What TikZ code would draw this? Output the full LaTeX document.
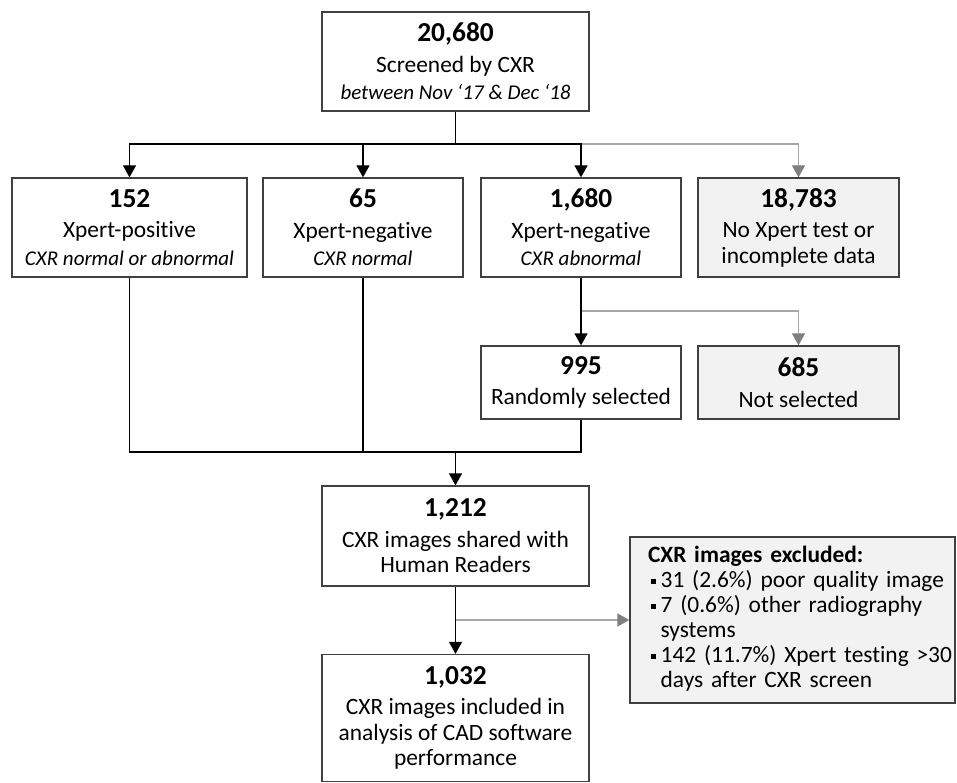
\documentclass[tikz,border=0pt]{standalone}
\usepackage{fontspec}
\setmainfont{Carlito}[Ligatures={TeX,NoCommon}]
\usetikzlibrary{arrows.meta}
\definecolor{boxline}{HTML}{404040}
\definecolor{greyline}{HTML}{A6A6A6}
\definecolor{greytip}{HTML}{7F7F7F}
\definecolor{greyfill}{HTML}{F2F2F2}
\newcommand{\numtxt}[1]{{\fontsize{27.4}{30}\selectfont\bfseries #1}\\[5pt]}
\newcommand{\subtxt}[1]{\\[2pt]{\fontsize{21}{25}\selectfont\itshape #1}}
\newcommand{\sqbullet}{\raisebox{0.3ex}{\rule{0.2em}{0.2em}}}

\begin{document}
\begin{tikzpicture}[x=1pt, y=-1pt, font=\fontsize{23.4}{25.5}\selectfont,
    box/.style={draw=boxline, line width=1.3pt, align=center, inner sep=0pt, minimum height=99pt},
    greybox/.style={box, fill=greyfill},
    flow/.style={line width=1.3pt, -{Triangle[width=13pt,length=12pt]}},
    sideflow/.style={line width=1.3pt, draw=greyline, -{Triangle[width=13pt,length=12pt,color=greytip]}},
    link/.style={line width=1.3pt}]
        \useasboundingbox (0,0) rectangle (957,783);

        \node[box, minimum width=267pt] (screened) at (455.5,61.5) {\numtxt{20,680} Screened by CXR \subtxt{between Nov ‘17 \& Dec ‘18}};
        \node[box, minimum width=235pt] (xpos) at (129.5,227.5) {\numtxt{152} Xpert-positive \subtxt{CXR normal or abnormal}};
        \node[box, minimum width=200pt] (xnegnorm) at (363,227.5) {\numtxt{65} Xpert-negative \subtxt{CXR normal}};
        \node[box, minimum width=200pt] (xnegabn) at (581,227.5) {\numtxt{1,680} Xpert-negative \subtxt{CXR abnormal}};
        \node[greybox, minimum width=201pt] (noxpert) at (798.5,227.5) {\numtxt{18,783} No Xpert test or\\ incomplete data};
        \node[box, minimum width=200pt, minimum height=73pt] (random) at (581,382.5) {\numtxt{995} Randomly selected};
        \node[greybox, minimum width=201pt, minimum height=73pt] (notsel) at (798.5,382.5) {\numtxt{685} Not selected};
        \node[box, minimum width=267pt, minimum height=100pt] (shared) at (455.5,536) {\numtxt{1,212} CXR images shared with\\ Human Readers};
        \node[box, minimum width=267pt, minimum height=127pt] (included) at (455.5,718) {\numtxt{1,032} CXR images included in\\ analysis of CAD software\\ performance};
        \node[greybox, minimum height=166pt, text width=325pt, inner xsep=0pt, align=left, font=\fontsize{23.4}{25}\selectfont] (excluded) at (792.5,620) {%
            \begin{tabular}{@{\hspace{21pt}}l@{\hspace{5pt}}l@{}}
            \multicolumn{2}{@{\hspace{18pt}}l@{}}{\textbf{CXR images excluded:}}\\
            \sqbullet & 31 (2.6\%) poor quality image\\
            \sqbullet & 7 (0.6\%) other radiography\\
             & systems\\
            \sqbullet & 142 (11.7\%) Xpert testing >30\\
             & days after CXR screen
            \end{tabular}};

        \coordinate (split) at (455.5,144);
        \coordinate (splitsel) at (581,311);
        \coordinate (merge) at (455.5,452);
        \coordinate (splitexc) at (455.5,620);

        \draw[link] (screened.south) -- (split);
        \draw[flow] (split) -| (xpos.north);
        \draw[flow] (split) -| (xnegnorm.north);
        \draw[sideflow] (split -| xnegabn.north) -| (noxpert.north);
        \draw[flow] (split) -| (xnegabn.north);
        \draw[sideflow] (splitsel) -| (notsel.north);
        \draw[flow] (xnegabn.south) -- (random.north);
        \draw[link] (xpos.south) |- (merge);
        \draw[link] (xnegnorm.south) |- (merge);
        \draw[link] (random.south) |- (merge);
        \draw[flow] (merge) -- (shared.north);
        \draw[sideflow] (splitexc) -- (splitexc -| excluded.west);
        \draw[flow] (shared.south) -- (included.north);
    \end{tikzpicture}
\end{document}
